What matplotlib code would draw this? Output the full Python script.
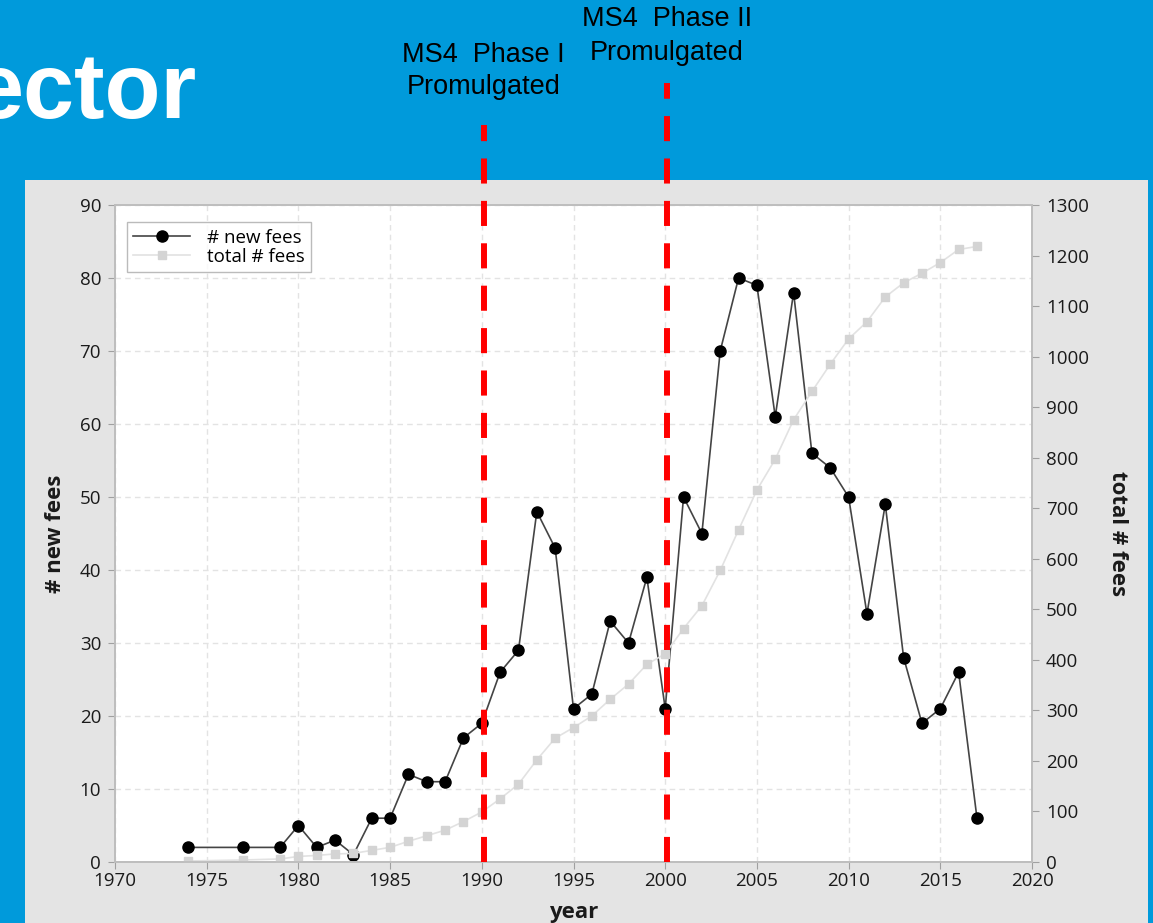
"""MS4 fees chart: new fees per year and running total."""

import matplotlib.pyplot as plt
from matplotlib.patches import Rectangle

years = [1974, 1977, 1979, 1980, 1981, 1982, 1983, 1984, 1985, 1986, 1987,
         1988, 1989, 1990, 1991, 1992, 1993, 1994, 1995, 1996, 1997, 1998,
         1999, 2000, 2001, 2002, 2003, 2004, 2005, 2006, 2007, 2008, 2009,
         2010, 2011, 2012, 2013, 2014, 2015, 2016, 2017]
new_fees = [2, 2, 2, 5, 2, 3, 1, 6, 6, 12, 11, 11, 17, 19, 26, 29, 48, 43,
            21, 23, 33, 30, 39, 21, 50, 45, 70, 80, 79, 61, 78, 56, 54, 50,
            34, 49, 28, 19, 21, 26, 6]
total_fees = [2, 4, 6, 11, 13, 16, 17, 23, 29, 41, 52, 63, 80, 99, 125, 154,
              202, 245, 266, 289, 322, 352, 391, 412, 462, 507, 577, 657, 736,
              797, 875, 931, 985, 1035, 1069, 1118, 1146, 1165, 1186, 1212,
              1218]
phase_years = [1990.1, 2000.1]
phase_labels = ["MS4  Phase I\nPromulgated", "MS4  Phase II\nPromulgated"]

BLUE = "#009ADB"
W, H = 1153, 923

plt.rcParams["font.family"] = ["Open Sans", "DejaVu Sans"]

fig = plt.figure(figsize=(W / 100, H / 100), dpi=100, facecolor=BLUE)

# gray panel behind the chart
fig.patches.append(Rectangle((25 / W, 0), (1148 - 25) / W, (H - 180) / H,
                             transform=fig.transFigure, facecolor="#E4E4E4",
                             edgecolor="none", zorder=-5))

# slide title, cut off at the left edge
fig.text(197 / W, (H - 118) / H, "ector", ha="right", va="baseline",
         fontsize=66, weight="bold", color="white", family="Liberation Sans")

ax = fig.add_axes([115 / W, (H - 862) / H, (1032 - 115) / W, (862 - 205) / H])
ax.set_facecolor("white")
ax2 = ax.twinx()

ln1, = ax.plot(years, new_fees, color="#444444", lw=1.2, marker="o",
               ms=8, mfc="black", mec="black", label="# new fees")
ln2, = ax2.plot(years, total_fees, color="#E2E2E2", lw=1.2, marker="s",
                ms=5.5, mfc="#D4D4D4", mec="#D4D4D4", label="total # fees")

ax.set_xlim(1970, 2020)
ax.set_ylim(0, 90)
ax2.set_ylim(0, 1300)
ax.set_xticks(range(1970, 2021, 5))
ax.set_yticks(range(0, 91, 10))
ax2.set_yticks(range(0, 1301, 100))

ax.grid(True, color="#E3E3E3", ls=(0, (4, 3)), lw=1)
for a in (ax, ax2):
    for s in a.spines.values():
        s.set_color("#BDBDBD")
        s.set_linewidth(1.2)
    a.tick_params(colors="#A0A0A0", labelcolor="#1A1A1A", labelsize=13.5,
                  length=5, pad=5)
ax.tick_params(axis="x", pad=2)

ax.set_xlabel("year", fontsize=16, weight="bold", color="#1A1A1A",
              labelpad=9)
ax.set_ylabel("# new fees", fontsize=16, weight="bold", color="#1A1A1A",
              labelpad=10)
ax2.set_ylabel("total # fees", fontsize=16, weight="bold", color="#1A1A1A",
               rotation=-90, labelpad=28)

leg = ax2.legend(handles=[ln1, ln2], loc="upper left", fontsize=13.5,
                 frameon=True, fancybox=False, edgecolor="#AAAAAA",
                 bbox_to_anchor=(0.013, 0.974), borderaxespad=0,
                 handlelength=3.0, labelspacing=0.05, borderpad=0.35,
                 handletextpad=0.9)
leg.get_frame().set_linewidth(1)

# regulation markers, reaching up into the slide header
tops = [(862 - 125) / 657, (862 - 83) / 657]
text_y = [(H - 71) / H, (H - 36) / H]
for yr, top, lab, ty in zip(phase_years, tops, phase_labels, text_y):
    ax2.axvline(yr, ymin=0, ymax=top, color="red", lw=4.3,
                dashes=(4.2, 2.9), clip_on=False, zorder=10)
    xf = (115 + (yr - 1970) * (917 / 50)) / W
    fig.text(xf, ty, lab, ha="center", va="center", fontsize=19.5,
             color="black", family="Liberation Sans", linespacing=1.35)

fig.savefig("out.png", dpi=100, facecolor=BLUE)
